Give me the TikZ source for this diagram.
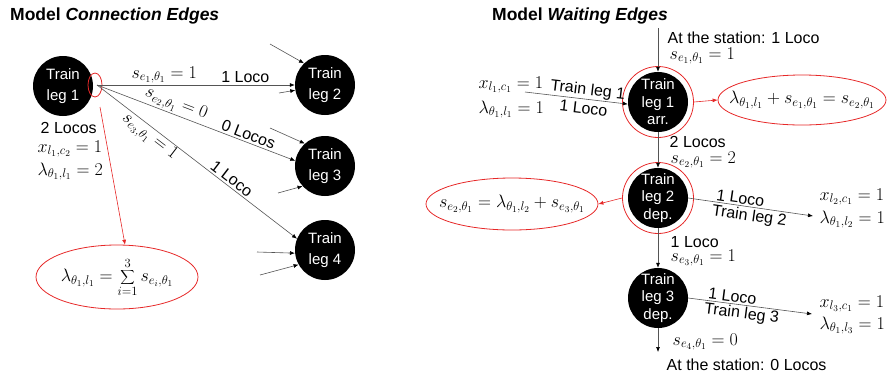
\RequirePackage{fix-cm}
\documentclass[tikz,border=0pt]{standalone}
\usepackage{fontspec}
\setmainfont{Liberation Sans}
\usetikzlibrary{shapes.geometric,arrows.meta}
\definecolor{myred}{RGB}{230,40,40}
\definecolor{linegray}{RGB}{85,85,85}
\begin{document}
\begin{tikzpicture}[x=1pt,y=-1pt,
  conn/.style={draw=linegray,line width=0.6pt,-{Latex[length=5pt,width=4pt,color=black]}},
  redarrow/.style={draw=myred,line width=0.6pt,-{Latex[length=5pt,width=4pt,color=myred]}},
  tl/.style={circle,fill=black,minimum size=60pt,inner sep=0pt,
    label={[text=white,align=center,inner sep=0pt,font=\fontsize{15}{21}\selectfont]center:{#1}}},
  tlt/.style={circle,fill=black,minimum size=60pt,inner sep=0pt,
    label={[text=white,align=center,inner sep=0pt,font=\fontsize{15}{17.5}\selectfont]center:{#1}}},
  ring/.style={circle,draw=myred,line width=0.8pt,minimum size=71pt,inner sep=0pt},
  lbl/.style={font=\fontsize{16}{19}\selectfont,inner sep=0.5pt},
  mth/.style={font=\fontsize{18}{21}\selectfont,inner sep=0.5pt},
  eqbox/.style={ellipse,draw=myred,line width=0.8pt,inner sep=0pt,
    label={[inner sep=0pt,font=\fontsize{18}{21}\selectfont]center:{#1}}},
  title/.style={font=\fontsize{17.5}{20}\selectfont\bfseries,anchor=base west,inner sep=0pt},
]
\useasboundingbox (0,0) rectangle (889,376);

% ---------------- Left: connection edges ----------------
\node[title] (t1) at (10,20) {Model \textit{Connection Edges}};
\node[tl={Train\\leg 1}] (l1) at (63,86) {};
\node[tl={Train\\leg 2}] (l2) at (325,85) {};
\node[tl={Train\\leg 3}] (l3) at (325,166) {};
\node[tl={Train\\leg 4}] (l4) at (325,250) {};
\node[ellipse,draw=myred,line width=0.8pt,minimum width=14pt,minimum height=24pt,inner sep=0pt] (sel) at (95,85) {};
\coordinate (src) at (97,85);

\draw[conn] (src) -- node[mth,above=1pt,sloped,pos=0.34]{$s_{e_1,\theta_1}=1$}
                     node[lbl,above=1.5pt,sloped,pos=0.75]{1 Loco} (l2.180);
\draw[conn] (src) -- node[mth,above=1pt,sloped,pos=0.38]{$s_{e_2,\theta_1}=0$}
                     node[lbl,above=1.5pt,sloped,pos=0.75]{0 Locos} (l3.170);
\draw[conn] (src) -- node[mth,below=0pt,sloped,pos=0.29]{$s_{e_3,\theta_1}=1$}
                     node[lbl,above=1.5pt,sloped,pos=0.65]{1 Loco} (l4.158);

\node[lbl,anchor=base west] (loc1) at (40,133) {2 Locos};
\node[mth,anchor=base west] (x1) at (37,152) {$x_{l_1,c_2}=1$};
\node[mth,anchor=base west] (lam1) at (37,175) {$\lambda_{\theta_1,l_1}=2$};

\coordinate (a2a) at (270,44);
\coordinate (a2b) at (279,93);
\coordinate (a3a) at (270,128);
\coordinate (a3b) at (278,193);
\coordinate (a4a) at (257,252);
\coordinate (a4b) at (260,275);
\draw[conn] (a2a) -- (l2.134);
\draw[conn] (a2b) -- (l2.190);
\draw[conn] (a3a) -- (l3.132);
\draw[conn] (a3b) -- (l3.222);
\draw[conn] (a4a) -- (l4.186);
\draw[conn] (a4b) -- (l4.209);

\node[eqbox={$\displaystyle \lambda_{\theta_1,l_1}=\sum_{i=1}^{3}s_{e_i,\theta_1}$},
      minimum width=162pt,minimum height=64pt] (eq1) at (117,277) {};
\coordinate (rs) at (100,107);
\draw[redarrow] (rs) -- (eq1.76);

% ---------------- Right: waiting edges ----------------
\node[title] (t2) at (492,20) {Model \textit{Waiting Edges}};
\node[tlt={Train\\leg 1\\arr.}] (A) at (658,102) {};
\node[ring] (Ar) at (658,102) {};
\node[tlt={Train\\leg 2\\dep.}] (B) at (658,198) {};
\node[ring] (Br) at (658,198) {};
\node[tlt={Train\\leg 3\\dep.}] (C) at (658,298) {};

\coordinate (topA) at (658,28);
\draw[conn] (topA) -- (A);
\node[lbl,anchor=base west] (stA) at (667,43) {At the station: 1 Loco};
\node[mth,anchor=base west] (sA) at (669,59) {$s_{e_1,\theta_1}=1$};

\coordinate (inA) at (525,92);
\draw[conn] (inA) -- node[lbl,above=0.5pt,sloped,pos=0.6]{Train leg 1}
                     node[lbl,below=3pt,sloped,pos=0.58]{1 Loco} (A.184);
\node[mth,anchor=base west] (xA) at (478,88) {$x_{l_1,c_1}=1$};
\node[mth,anchor=base west] (lA) at (478,113) {$\lambda_{\theta_1,l_1}=1$};

\node[eqbox={$\lambda_{\theta_1,l_1}+s_{e_1,\theta_1}=s_{e_2,\theta_1}$},
      minimum width=168pt,minimum height=50pt] (eq2) at (802,100) {};
\draw[redarrow] (Ar.east) -- (eq2.west);

\draw[conn] (A) -- (B);
\node[lbl,anchor=base west] (loc2) at (669,147) {2 Locos};
\node[mth,anchor=base west] (sB) at (670,163) {$s_{e_2,\theta_1}=2$};

\node[eqbox={$s_{e_2,\theta_1}=\lambda_{\theta_1,l_2}+s_{e_3,\theta_1}$},
      minimum width=172pt,minimum height=52pt] (eq3) at (512,204) {};
\draw[redarrow] (Br.west) -- (eq3.east);

\coordinate (outB) at (813,216);
\draw[conn] (B.east) -- node[lbl,above=1pt,sloped,pos=0.41]{1 Loco}
                        node[lbl,below=1.5pt,sloped,pos=0.5]{Train leg 2} (outB);
\node[mth,anchor=base west] (xB) at (819,200) {$x_{l_2,c_1}=1$};
\node[mth,anchor=base west] (lB) at (819,223) {$\lambda_{\theta_1,l_2}=1$};

\draw[conn] (B) -- (C);
\node[lbl,anchor=base west] (loc3) at (670,247) {1 Loco};
\node[mth,anchor=base west] (sC) at (670,261) {$s_{e_3,\theta_1}=1$};

\coordinate (outC) at (812,314);
\draw[conn] (C.east) -- node[lbl,above=1pt,sloped,pos=0.35]{1 Loco}
                        node[lbl,below=1pt,sloped,pos=0.44]{Train leg 3} (outC);
\node[mth,anchor=base west] (xC) at (819,307) {$x_{l_3,c_1}=1$};
\node[mth,anchor=base west] (lC) at (819,329) {$\lambda_{\theta_1,l_3}=1$};

\coordinate (botC) at (658,352);
\draw[conn] (C) -- (botC);
\node[mth,anchor=base west] (sD) at (672,345) {$s_{e_4,\theta_1}=0$};
\node[lbl,anchor=base west] (stD) at (666,370) {At the station: 0 Locos};
\end{tikzpicture}
\end{document}
